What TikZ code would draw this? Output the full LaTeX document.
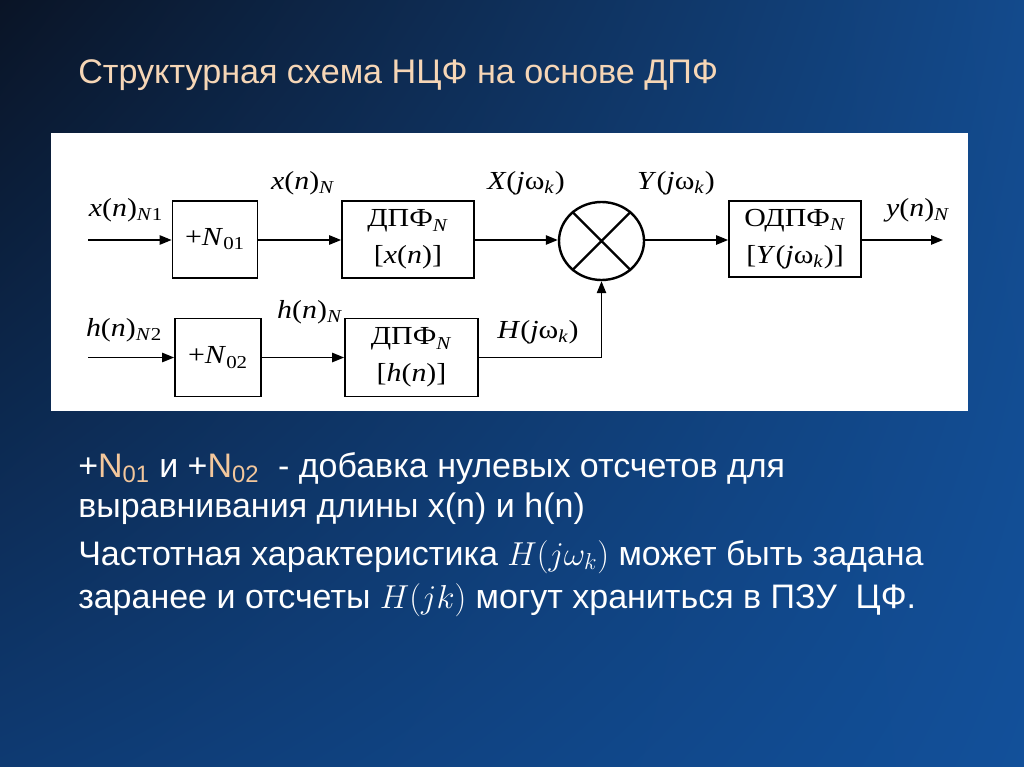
\documentclass[tikz,border=0pt]{standalone}
\usepackage{fontspec}
\setmainfont{Liberation Serif}
\setsansfont{Liberation Sans}
\usetikzlibrary{arrows.meta,shapes.geometric,shadings}
\definecolor{bgUL}{HTML}{0A1426}
\definecolor{bgUR}{HTML}{134A8C}
\definecolor{bgLL}{HTML}{0E3A72}
\definecolor{bgLR}{HTML}{12509A}
\definecolor{peach}{HTML}{F6D6B6}
\definecolor{peachN}{HTML}{F3C79C}
\newcommand\lo[1]{\textsubscript{#1}}
\newcommand\stretchx[1]{\scalebox{1.15}[1]{#1}}
\tikzset{
  blk/.style={draw=black, line width=1.3pt, fill=white, inner sep=0pt, align=center, font=\fontsize{19.5}{27.5}\selectfont},
  arr/.style={line width=1.2pt, -{Triangle[length=9pt,width=7pt]}},
  lbl/.style={font=\fontsize{19.5}{22}\selectfont, inner sep=0pt},
  ttl/.style={font=\sffamily\fontsize{25.6}{30}\selectfont, text=peach, anchor=base west, inner sep=0pt},
  body/.style={font=\sffamily\fontsize{25.5}{30}\selectfont, text=white, anchor=base west, inner sep=0pt}
}
\begin{document}
\begin{tikzpicture}[x=0.75pt,y=-0.75pt]
\useasboundingbox (0,0) rectangle (1024,767);
\shade[upper left=bgUL, upper right=bgUR, lower left=bgLL, lower right=bgLR] (0,0) rectangle (1024,767);
% title
\node[ttl] (title) at (78,84) {Структурная схема НЦФ на основе ДПФ};
% diagram panel
\fill[white] (51,133) rectangle (968,411);
% blocks
\node[blk, minimum width=63.75pt, minimum height=57.75pt] (n1) at (215,239.5) {\stretchx{+\textit{N}\lo{01}}};
\node[blk, minimum width=99pt, minimum height=57.75pt] (dx) at (408,239.5) {\stretchx{ДПФ\lo{\textit{N}}}\\\stretchx{[\textit{x}(\textit{n})]}};
\node[draw=black, line width=1.8pt, ellipse, minimum width=63.75pt, minimum height=58.5pt, inner sep=0pt] (m) at (601.5,241) {};
\draw[line width=1.8pt] (m.45) -- (m.225) (m.135) -- (m.315);
\node[blk, minimum width=99pt, minimum height=57pt] (oy) at (795,239) {\stretchx{ОДПФ\lo{\textit{N}}}\\\stretchx{[\textit{Y}(\textit{j}ω\lo{\textit{k}})]}};
\node[blk, minimum width=64.5pt, minimum height=58.5pt] (n2) at (218,357.5) {\stretchx{+\textit{N}\lo{02}}};
\node[blk, minimum width=99.75pt, minimum height=58.5pt] (dh) at (411.5,357.5) {\stretchx{ДПФ\lo{\textit{N}}}\\\stretchx{[\textit{h}(\textit{n})]}};
% free ends
\coordinate (in1) at (88,240);
\coordinate (in2) at (88,357.5);
\coordinate (out) at (943,240);
% connectors
\draw[arr] (in1) -- (in1 -| n1.west);
\draw[arr] (n1.east |- in1) -- (dx.west |- in1);
\draw[arr] (dx.east |- in1) -- (m.west |- in1);
\draw[arr] (m.east |- in1) -- (oy.west |- in1);
\draw[arr] (oy.east |- in1) -- (out);
\draw[arr] (in2) -- (n2.west);
\draw[arr] (n2.east) -- (dh.west);
\draw[arr] (dh.east) -| (m.south);
% labels
\node[lbl] (l1) at (126,210) {\stretchx{\textit{x}(\textit{n})\lo{\textit{N}1}}};
\node[lbl] (l2) at (303,183) {\stretchx{\textit{x}(\textit{n})\lo{\textit{N}}}};
\node[lbl] (l3) at (526,183) {\stretchx{\textit{X}(\textit{j}ω\lo{\textit{k}})}};
\node[lbl] (l4) at (676,183) {\stretchx{\textit{Y}(\textit{j}ω\lo{\textit{k}})}};
\node[lbl] (l5) at (918,210) {\stretchx{\textit{y}(\textit{n})\lo{\textit{N}}}};
\node[lbl] (l6) at (124,330) {\stretchx{\textit{h}(\textit{n})\lo{\textit{N}2}}};
\node[lbl] (l7) at (310,312) {\stretchx{\textit{h}(\textit{n})\lo{\textit{N}}}};
\node[lbl] (l8) at (538,332) {\stretchx{\textit{H}(\textit{j}ω\lo{\textit{k}})}};
% body text
\node[body] (b1) at (78,477) {+\textcolor{peachN}{N\lo{01}} и +\textcolor{peachN}{N\lo{02}}\ \ - добавка нулевых отсчетов для};
\node[body] (b2) at (78,517) {выравнивания длины x(n) и h(n)};
\node[body] (b3) at (78,565) {Частотная характеристика $H(j\omega_k)$ может быть задана};
\node[body] (b4) at (78,608) {заранее и отсчеты $H(jk)$ могут храниться в ПЗУ\ \ ЦФ.};
\end{tikzpicture}
\end{document}
